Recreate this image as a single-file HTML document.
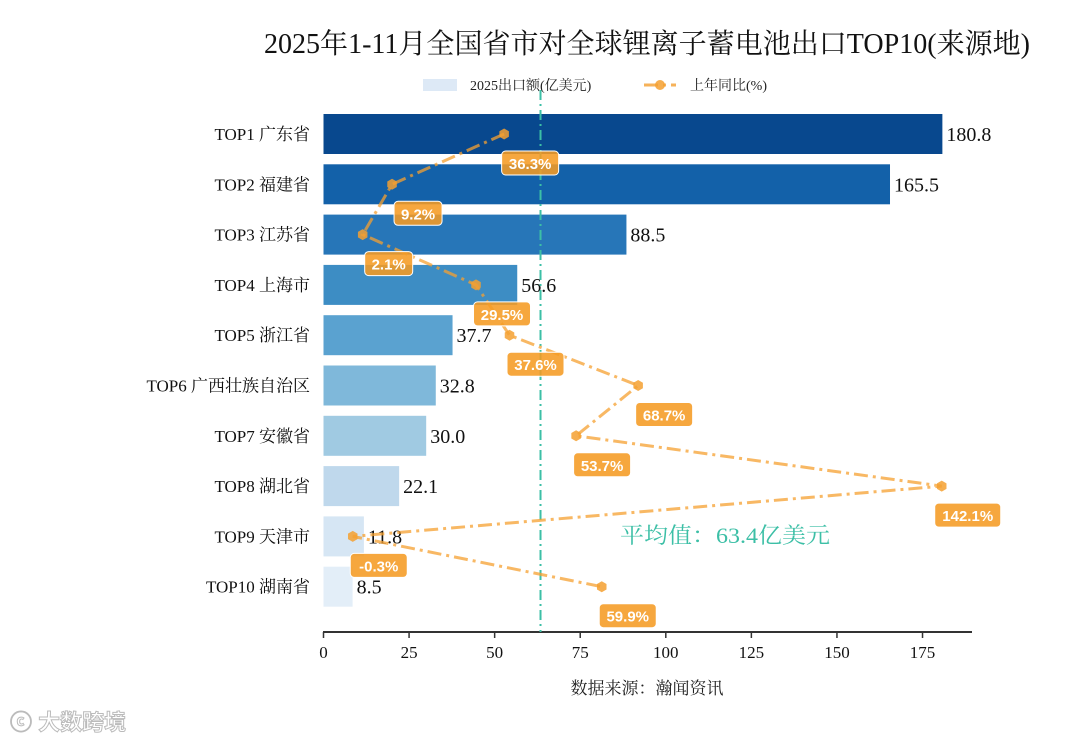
<!DOCTYPE html>
<html><head><meta charset="utf-8">
<style>
body{margin:0;background:#fff;}
svg{display:block;font-family:"Liberation Serif","Noto Serif CJK SC",serif;}
</style></head>
<body>
<svg id="chart" width="1080" height="743" viewBox="0 0 1080 743">
<text x="647" y="53" text-anchor="middle" font-size="28" fill="#111" textLength="766" lengthAdjust="spacingAndGlyphs">2025年1-11月全国省市对全球锂离子蓄电池出口TOP10(来源地)</text>
<g>
<rect x="423" y="79" width="34" height="12" fill="#dde9f6"/>
<text x="470" y="90" font-size="14" fill="#222">2025出口额(亿美元)</text>
<line x1="644" y1="85" x2="676" y2="85" stroke="#f5a030" stroke-width="3" stroke-dasharray="14,5,3,5" opacity="0.8"/>
<circle cx="660" cy="85" r="5" fill="#f5a030" opacity="0.85"/>
<text x="690" y="90" font-size="14" fill="#222">上年同比(%)</text>
</g>
<g id="plot"></g>
<text x="647" y="694" text-anchor="middle" font-size="17" fill="#222">数据来源：瀚闻资讯</text>
<text x="10" y="730" font-size="22" fill="#fff" stroke="#bbb" stroke-width="1" font-family="Liberation Sans,'Noto Sans CJK SC',sans-serif" font-weight="bold">ⓒ 大数跨境</text>
</svg>
<script>
const categories=["TOP1 广东省","TOP2 福建省","TOP3 江苏省","TOP4 上海市","TOP5 浙江省","TOP6 广西壮族自治区","TOP7 安徽省","TOP8 湖北省","TOP9 天津市","TOP10 湖南省"];
const exportValues=[180.8,165.5,88.5,56.6,37.7,32.8,30.0,22.1,11.8,8.5];
const yoyValues=[36.3,9.2,2.1,29.5,37.6,68.7,53.7,142.1,-0.3,59.9];
const xTicks=[0,25,50,75,100,125,150,175];
const avgValue=63.4;
const barColors=["#08488e","#1361a9","#2776b8","#3d8dc4","#5aa2d0","#7fb8da","#a0cae2","#bfd8ec","#d6e6f4","#e3eef8"];
const NS="http://www.w3.org/2000/svg";
const g=document.getElementById('plot');
const x=v=>323.5+v*3.423;
const xp=v=>354+v*4.136;
const yc=i=>134+i*50.3;
function el(t,a,p){const e=document.createElementNS(NS,t);for(const k in a)e.setAttribute(k,a[k]);(p||g).appendChild(e);return e;}
categories.forEach((c,i)=>{
 const b=el('rect',{x:x(0),y:yc(i)-20,width:x(exportValues[i])-x(0),height:40,fill:barColors[i]});
 
 
 const l=el('text',{x:310,y:yc(i)+6,'text-anchor':'end','font-size':17,fill:'#111'});l.textContent=c;
 
 
 const v=el('text',{x:x(exportValues[i])+4,y:yc(i)+7,'font-size':20,fill:'#111'});v.textContent=exportValues[i].toFixed(1);
 
 
});
const ax=el('line',{x1:323,y1:632,x2:972,y2:632,stroke:'#333','stroke-width':2});


xTicks.forEach(t=>{
 el('line',{x1:x(t),y1:632,x2:x(t),y2:638,stroke:'#333','stroke-width':1.5});
 const tl=el('text',{x:x(t),y:658,'text-anchor':'middle','font-size':17,fill:'#111'});tl.textContent=t;
 
 
});
const av=el('line',{x1:x(avgValue),y1:90,x2:x(avgValue),y2:632,stroke:'#3cbfa6','stroke-width':2,'stroke-dasharray':'10,4,2,4'});


const at=el('text',{x:620,y:543,'font-size':22,fill:'#3cbfa6',textLength:210,lengthAdjust:'spacingAndGlyphs'});at.textContent='平均值：'+avgValue+'亿美元';


const pts=yoyValues.map((v,i)=>xp(v)+','+yc(i)).join(' ');
const ln=el('polyline',{points:pts,fill:'none',stroke:'#f5a030','stroke-width':3,'stroke-dasharray':'14,5,3,5',opacity:0.75});


yoyValues.forEach((v,i)=>{
 const cx=xp(v),cy=yc(i);
 const hp=[];for(let k=0;k<6;k++){const a=Math.PI/3*k+Math.PI/6;hp.push((cx+5.5*Math.cos(a))+','+(cy+5.5*Math.sin(a)));}
 const m=el('polygon',{points:hp.join(' '),fill:'#f5a030',opacity:0.85});
 
 
 const txt=v.toFixed(1)+'%';const w=txt.length*9+12;
 const r=el('rect',{x:cx-w/2+26,y:cy+17,width:w,height:24,rx:4,fill:'rgba(245,155,35,0.88)',stroke:'#fff','stroke-width':1});
 
 
 const t=el('text',{x:cx+26,y:cy+35,'text-anchor':'middle','font-size':15,'font-weight':'bold',fill:'#fff','font-family':'Liberation Sans,sans-serif'});t.textContent=txt;
 
 
});
</script>
</body></html>
